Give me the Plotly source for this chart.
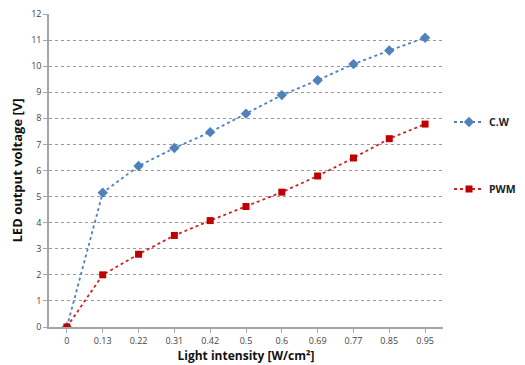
import plotly.graph_objects as go

categories = ["0", "0.13", "0.22", "0.31", "0.42", "0.5", "0.6", "0.69", "0.77", "0.85", "0.95"]
cw_values = [0, 5.15, 6.17, 6.86, 7.47, 8.18, 8.89, 9.46, 10.08, 10.6, 11.09]
pwm_values = [0, 2.0, 2.79, 3.51, 4.08, 4.62, 5.17, 5.79, 6.48, 7.22, 7.78]
y_ticks = list(range(0, 13))

W, H = 525, 365
fig = go.Figure()
fig.add_trace(go.Scatter(
    x=categories, y=cw_values, name="<b>C.W</b>", mode="lines+markers",
    line=dict(color="#4F81BD", width=1.8, dash="dot"),
    marker=dict(symbol="diamond", size=8, color="#4F81BD"),
    legend="legend", showlegend=True))
fig.add_trace(go.Scatter(
    x=categories, y=pwm_values, name="<b>PWM</b>", mode="lines+markers",
    line=dict(color="#D02020", width=1.8, dash="dot"),
    marker=dict(symbol="square", size=7, color="#C00000"),
    legend="legend2", showlegend=True))

font_family = "Open Sans, Liberation Sans, sans-serif"
leg_common = dict(font=dict(family=font_family, size=10.5, color="#222"),
                  bgcolor="rgba(0,0,0,0)", xanchor="left", yanchor="middle",
                  itemwidth=30, xref="container", yref="container")
fig.update_layout(
    width=W, height=H,
    margin=dict(l=41, r=90, t=6, b=46, autoexpand=False),
    plot_bgcolor="white", paper_bgcolor="white",
    font=dict(family=font_family),
    showlegend=True,
    legend=dict(x=441 / W, y=1 - 114 / H, **leg_common),
    legend2=dict(x=441 / W, y=1 - 181 / H, **leg_common),
    xaxis=dict(
        type="category", categoryorder="array", categoryarray=categories,
        range=[-0.5, 10.5], showgrid=False, showline=True, linecolor="#A6A6A6",
        linewidth=1.5, ticks="outside", ticklen=4, tickcolor="#A6A6A6",
        tickfont=dict(size=9, color="#444"), automargin=False,
        ticklabeloverflow="allow",
        title=dict(text="<b>Light intensity [W/cm²]</b>", font=dict(size=12, color="#111"),
                   standoff=6),
    ),
    yaxis=dict(
        range=[0, 12], tickvals=y_ticks, showgrid=True, gridcolor="#9A9A9A",
        griddash="dot", gridwidth=1, showline=True, linecolor="#A6A6A6",
        linewidth=1.5, ticks="outside", ticklen=4, tickcolor="#A6A6A6",
        tickfont=dict(size=9, color="#444"), zeroline=False, automargin=False,
        ticklabeloverflow="allow",
        title=dict(text="<b>LED output voltage [V]</b>", font=dict(size=13, color="#111"),
                   standoff=8),
    ),
)
fig.write_html("out.html")
